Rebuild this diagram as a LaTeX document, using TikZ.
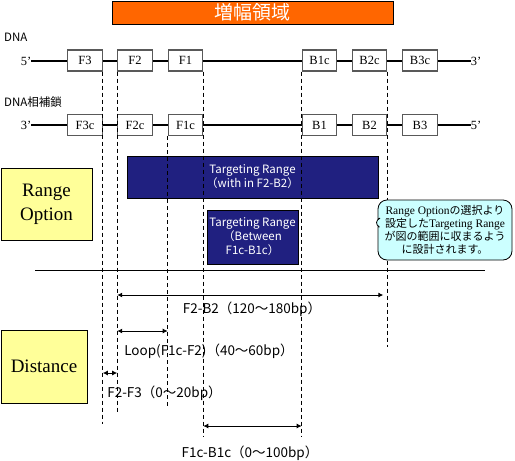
\documentclass[tikz,border=0pt]{standalone}
\usepackage{fontspec}
\setmainfont{Liberation Serif}
\newfontfamily\jp{Noto Sans CJK JP}
\usetikzlibrary{arrows.meta,shapes.callouts}
\definecolor{navy}{RGB}{32,32,128}
\definecolor{ylw}{RGB}{255,255,153}
\definecolor{cyanbox}{RGB}{204,255,255}
\definecolor{orng}{RGB}{255,102,0}
\tikzset{
  seg/.style={draw=black!65,line width=1.1pt,fill=white,minimum width=34.5pt,minimum height=21pt,inner sep=0pt,font=\fontsize{12.5}{12.5}\selectfont},
  strand/.style={line width=2.6pt},
  guide/.style={line width=0.8pt,dash pattern=on 4pt off 3pt},
  navybox/.style={draw=black,fill=navy,text=white,inner sep=0pt,align=center,font=\jp\fontsize{11.5}{14}\selectfont},
  ylwbox/.style={draw=black,line width=0.8pt,fill=ylw,inner sep=0pt,align=center,font=\fontsize{19}{24}\selectfont},
  dim/.style={line width=0.9pt,{Latex[length=5pt,width=5pt]}-{Latex[length=5pt,width=5pt]}},
  dimlbl/.style={font=\jp\fontsize{13.5}{13.5}\selectfont,inner sep=0pt},
  strlbl/.style={font=\jp\fontsize{11.5}{11.5}\selectfont,inner sep=0pt,anchor=west},
  endlbl/.style={font=\fontsize{12.5}{12.5}\selectfont,inner sep=0pt},
  jpc/.style={}
}
\newcommand{\cjp}[1]{{\jp\fontsize{11}{13}\selectfont #1}}
\begin{document}
\begin{tikzpicture}[x=1pt,y=-1pt]
\useasboundingbox (0,0) rectangle (515,461);
% title
\node[draw=black,fill=orng,text=white,minimum width=281pt,minimum height=23pt,inner sep=0pt,font=\jp\fontsize{19}{19}\selectfont] (title) at (252.5,12.5) {増幅領域};
% labels
\node[strlbl] (dna) at (4,37) {DNA};
\node[strlbl] (dnac) at (4,102) {DNA相補鎖};
% strand ends
\node[endlbl] (t5) at (26,61) {5’};
\node[endlbl] (t3) at (476,61) {3’};
\node[endlbl] (b3) at (26,125) {3’};
\node[endlbl] (b5) at (476,125) {5’};
\draw[strand] (t5.east) -- (t3.west);
\draw[strand] (b3.east) -- (b5.west);
% top boxes
\node[seg] (F3) at (85,60.5) {F3};
\node[seg] (F2) at (135,60.5) {F2};
\node[seg] (F1) at (185.5,60.5) {F1};
\node[seg] (B1c) at (319.5,60.5) {B1c};
\node[seg] (B2c) at (369.5,60.5) {B2c};
\node[seg] (B3c) at (420,60.5) {B3c};
% bottom boxes
\node[seg] (F3c) at (85,125) {F3c};
\node[seg] (F2c) at (135,125) {F2c};
\node[seg] (F1c) at (185.5,125) {F1c};
\node[seg] (B1) at (319.5,125) {B1};
\node[seg] (B2) at (369.5,125) {B2};
\node[seg] (B3) at (420,125) {B3};
% guide end points
\coordinate (gF3) at (F3.south east |- 0,424);
\coordinate (gF2) at (F2.south west |- 0,413);
\coordinate (gF1c) at (F1c.south west |- 0,406);
\coordinate (gF1) at (F1.south east |- 0,437);
\coordinate (gB1c) at (B1c.south west |- 0,437);
\coordinate (gB2c) at (B2c.south east |- 0,347);
% range option
\node[ylwbox,minimum width=91pt,minimum height=72pt] (ro) at (46.5,204) {Range\\Option};
\node[navybox,minimum width=251pt,minimum height=42pt] (tr1) at (252.5,177) {Targeting Range\\（with in F2-B2）};
\node[navybox,minimum width=91pt,minimum height=54pt] (tr2) at (252.5,237) {Targeting Range\\（Between\\F1c-B1c）};
% guides
\draw[guide] (F3.south east) -- (gF3);
\draw[guide] (F2.south west) -- (gF2);
\draw[guide] (F1c.south west) -- (gF1c);
\draw[guide] (F1.south east) -- (gF1);
\draw[guide] (B1c.south west) -- (gB1c);
\draw[guide] (B2c.south east) -- (gB2c);
% callout
\node[rectangle callout,rounded corners=9pt,draw=black,line width=0.8pt,fill=cyanbox,minimum width=134pt,minimum height=60pt,inner sep=0pt,align=center,callout absolute pointer={(372,222)},font=\fontsize{11.5}{13}\selectfont] (note) at (445,230)
 {Range Option\cjp{の選択より}\\\cjp{設定した}Targeting Range\\\cjp{が図の範囲に収まるよう}\\\cjp{に設計されます。}};
% separator
\coordinate (sepL) at (35,270);
\coordinate (sepR) at (485,270);
\draw[line width=0.9pt] (sepL) -- (sepR);
% distance
\node[ylwbox,minimum width=86pt,minimum height=73pt] (dist) at (44,366.5) {Distance};
\draw[dim] (gF2 |- 0,295) -- ([xshift=-4pt]gB2c |- 0,295);
\node[dimlbl] (l1) at (252,309) {F2-B2（120〜180bp）};
\draw[dim] (gF2 |- 0,331) -- (gF1c |- 0,331);
\node[dimlbl] (l2) at (209,351) {Loop(F1c-F2)（40〜60bp）};
\draw[dim] (gF3 |- 0,373) -- (gF2 |- 0,373);
\node[dimlbl] (l3) at (164.5,393) {F2-F3（0〜20bp）};
\draw[dim] (gF1 |- 0,426) -- (gB1c |- 0,426);
\node[dimlbl] (l4) at (250,453) {F1c-B1c（0〜100bp）};
\end{tikzpicture}
\end{document}
